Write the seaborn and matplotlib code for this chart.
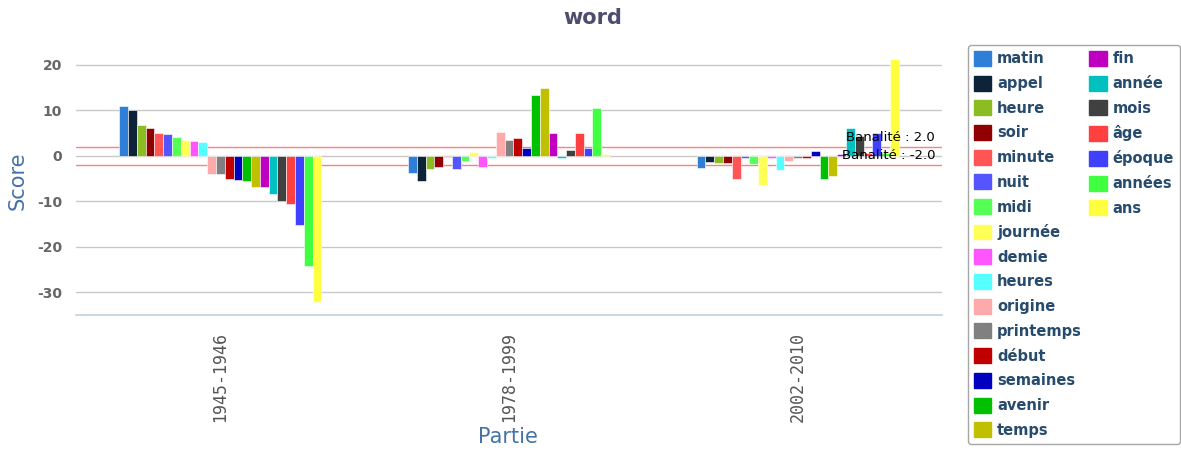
import matplotlib
matplotlib.use("Agg")
import matplotlib.pyplot as plt
import matplotlib.transforms as mtransforms
from matplotlib.patches import Patch
import seaborn as sns
import pandas as pd

# ---------------- data ----------------
parties = ["1945-1946", "1978-1999", "2002-2010"]
words = ["matin", "appel", "heure", "soir", "minute", "nuit", "midi", "journée",
         "demie", "heures", "origine", "printemps", "début", "semaines", "avenir",
         "temps", "fin", "année", "mois", "âge", "époque", "années", "ans"]
colors = ["#2f7ed8", "#0d233a", "#8bbc21", "#910000", "#ff5555", "#5555ff",
          "#55ff55", "#ffff55", "#ff55ff", "#55ffff", "#ffaaaa", "#808080",
          "#c00000", "#0000c0", "#00c000", "#c0c000", "#c000c0", "#00c0c0",
          "#404040", "#ff4040", "#4040ff", "#40ff40", "#ffff40"]
scores_1945 = [11.0, 10.0, 6.8, 6.1, 5.0, 4.8, 4.1, 3.5, 3.3, 3.0, -4.0, -4.0,
               -5.0, -5.4, -5.6, -6.8, -6.9, -8.3, -10.0, -10.7, -15.3, -24.3, -32.2]
scores_1978 = [-3.7, -5.5, -2.9, -2.4, -0.2, -2.9, -1.1, 0.8, -2.5, -0.4, 5.3, 3.5,
               4.0, 1.8, 13.3, 14.9, 5.0, -0.4, 1.2, 5.0, 1.8, 10.4, 0.4]
scores_2002 = [-2.8, -1.3, -1.5, -1.5, -5.2, -0.6, -1.8, -6.5, -0.4, -3.2, -1.1, -0.4,
               -0.5, 1.1, -5.1, -4.5, 0.4, 6.0, 4.4, 0.5, 5.0, 0.5, 21.3]
banalite = [2.0, -2.0]
y_ticks = [-30, -20, -10, 0, 10, 20]

rows = []
for p, vals in zip(parties, [scores_1945, scores_1978, scores_2002]):
    for w, v in zip(words, vals):
        rows.append({"Partie": p, "word": w, "Score": v})
df = pd.DataFrame(rows)

# ---------------- figure ----------------
sns.set_style("white")
plt.rcParams["font.family"] = ["DejaVu Sans"]

W, H = 1181, 454
fig = plt.figure(figsize=(W / 100, H / 100), dpi=100)
ax = fig.add_axes([76 / W, (H - 315) / H, 866 / W, 273 / H])

sns.barplot(data=df, x="Partie", y="Score", hue="word", order=parties,
            hue_order=words, palette=colors, width=0.7, saturation=1,
            errorbar=None, edgecolor="white", linewidth=0.4, legend=False,
            ax=ax, zorder=3)

ax.set_xlim(-0.5, 2.5)
ax.set_ylim(-35, 25)
ax.set_yticks(y_ticks)
ax.set_yticklabels([str(t) for t in y_ticks], fontweight="bold", fontsize=10,
                   color="#666666")
ax.tick_params(axis="y", length=0, pad=10)
for t in y_ticks:
    ax.axhline(t, color="#c8c8c8", lw=1, zorder=1)

for b in banalite:
    ax.axhline(b, color="#ff8080", lw=1, zorder=2)
trans = mtransforms.blended_transform_factory(ax.transAxes, ax.transData)
for b in banalite:
    ax.text(0.992, b + 0.6, f"Banalité : {b:.1f}", transform=trans, ha="right",
            va="bottom", fontsize=9.5, color="black", zorder=5)

for s in ["top", "left", "right"]:
    ax.spines[s].set_visible(False)
ax.spines["bottom"].set_color("#c0d0e0")
ax.spines["bottom"].set_linewidth(1.2)

ax.set_xticks([-0.5, 0.5, 1.5, 2.5])
ax.set_xticklabels([""] * 4)
ax.tick_params(axis="x", which="major", length=6, color="#c0d0e0", width=1.2)
ax.set_xticks([0, 1, 2], minor=True)
ax.set_xticklabels(parties, minor=True, rotation=90, fontfamily="DejaVu Sans Mono",
                   fontsize=12, color="#555555", va="top")
ax.tick_params(axis="x", which="minor", length=0, pad=12)
ax.set_xlabel("")
ax.set_ylabel("")

fig.text(593 / W, 1 - 18 / H, "word", ha="center", va="center", fontsize=15,
         fontweight="bold", color="#4d4d6e")
fig.text(18 / W, 1 - 181 / H, "Score", ha="center", va="center", rotation=90,
         fontsize=15, color="#4572a7")
fig.text(508 / W, 1 - 437 / H, "Partie", ha="center", va="center",
         fontsize=15, color="#4572a7")

handles = [Patch(facecolor=c, edgecolor=c) for c in colors]
labels = list(words)
n_pad = 32 - len(words)
handles += [Patch(facecolor="none", edgecolor="none") for _ in range(n_pad)]
labels += [""] * n_pad
leg = fig.legend(handles, labels, ncol=2, loc="upper left",
                 bbox_to_anchor=(968 / W, 1 - 45 / H), frameon=True, fancybox=True,
                 prop={"weight": "bold", "size": 10.5}, labelcolor="#274b6d",
                 handlelength=1.2, handleheight=1.2, handletextpad=0.4,
                 columnspacing=0.5, labelspacing=0.64, borderpad=0.4,
                 borderaxespad=0)
leg.get_frame().set_edgecolor("#909090")
leg.get_frame().set_linewidth(1)

fig.savefig("out.png", dpi=100)
